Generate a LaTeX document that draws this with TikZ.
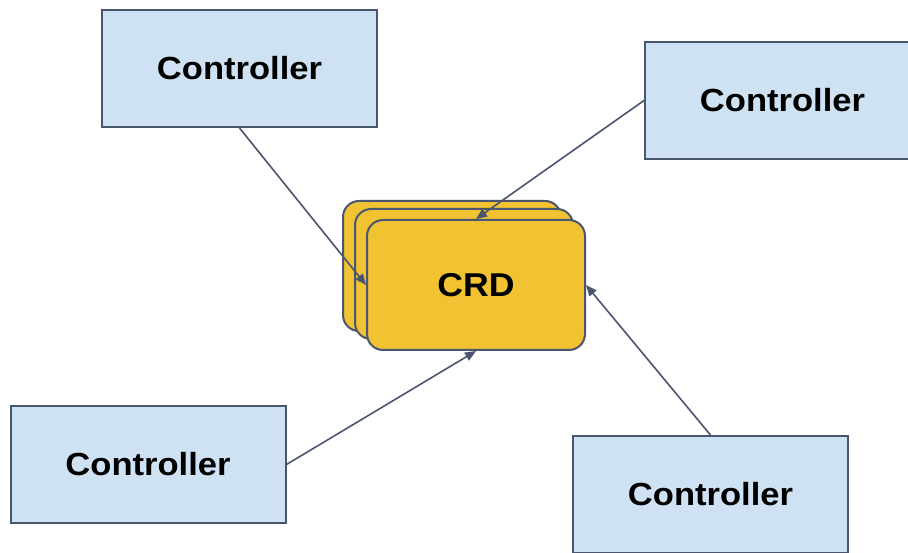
\documentclass[tikz,border=0pt]{standalone}
\usepackage{fontspec}
\setmainfont{Liberation Sans}[FakeStretch=1.08]
\usetikzlibrary{arrows.meta}
\definecolor{boxblue}{HTML}{CFE2F3}
\definecolor{edge}{HTML}{4A5670}
\definecolor{crdyellow}{HTML}{F1C232}
\tikzset{
  ctrl/.style={draw=edge, line width=2pt, fill=boxblue, minimum width=275pt, minimum height=117pt, inner sep=0pt,
    font=\fontsize{32}{38}\selectfont\bfseries},
  card/.style={draw=edge, line width=2pt, fill=crdyellow, rounded corners=16pt, minimum width=218pt, minimum height=130pt, inner sep=0pt,
    font=\fontsize{33}{40}\selectfont\bfseries},
  conn/.style={draw=edge, line width=1.6pt, -{Triangle[length=11pt,width=9pt]}}
}
\begin{document}
\begin{tikzpicture}[x=1pt,y=1pt]
\useasboundingbox (0,0) rectangle (908,552);
\clip (0,0) rectangle (908,552);
\fill[white] (0,0) rectangle (908,552);
\node[card] (back) at (452,286) {};
\node[card] (mid) at (464,278) {};
\node[card] (crd) at (476,267) {CRD};
\node[ctrl] (tl) at (239.5,483.5) {Controller};
\node[ctrl] (tr) at (782.5,451.5) {Controller};
\node[ctrl] (bl) at (148,87.5) {Controller};
\node[ctrl] (br) at (710.5,57.5) {Controller};
\draw[conn] (tl.south) -- (crd.west);
\draw[conn] (tr.west) -- (crd.north);
\draw[conn] (bl.east) -- (crd.south);
\draw[conn] (br.north) -- (crd.east);
\end{tikzpicture}
\end{document}
